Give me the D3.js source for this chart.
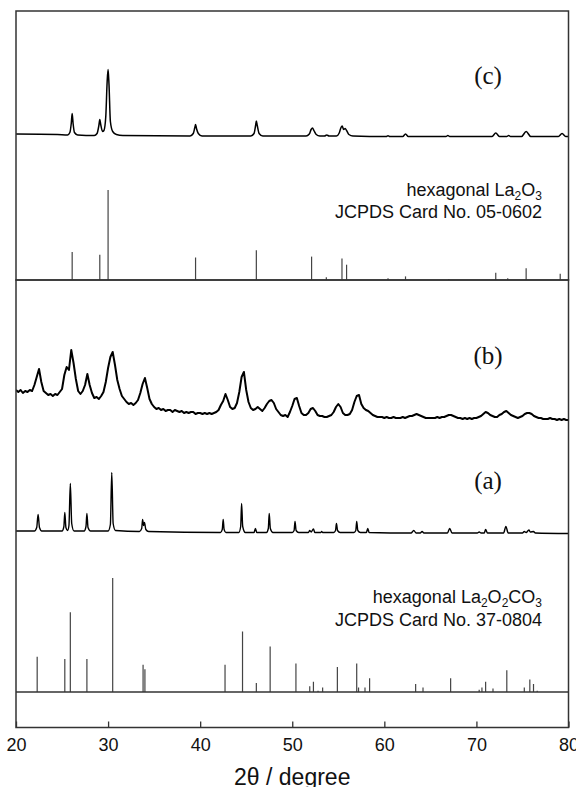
<!DOCTYPE html>
<html lang="en">
<head>
<meta charset="UTF-8" />
<title>index</title>
<script src="https://d3js.org/d3.v7.min.js"></script>
<style>
  body { margin: 0; background: #fff; }
  svg { display: block; }
  .sans { font-family: "Liberation Sans", Arial, sans-serif; fill: #111; }
  .serif { font-family: "Liberation Serif", "Times New Roman", serif; fill: #111; }
</style>
</head>
<body>
<div id="chart"></div>
<script>
// 2theta range and tick labels
var xTicks = [20, 30, 40, 50, 60, 70, 80];

// hexagonal La2O3, JCPDS 05-0602 (2theta, relative intensity %)
var la2o3Pos = [26.1, 29.1, 30.0, 39.5, 46.1, 52.1, 53.7, 55.4, 55.9, 60.4, 62.3, 67.0, 72.1, 73.4, 75.4, 79.1];
var la2o3Int = [31, 28, 100, 25, 33, 26, 3, 24, 17, 2, 4, 1, 8, 2, 13, 7];

// hexagonal La2O2CO3, JCPDS 37-0804
var carbPos = [22.3, 25.3, 25.9, 27.7, 30.5, 33.8, 34.0, 42.7, 44.6, 46.1, 47.6, 50.4, 51.9, 52.3, 52.8, 53.3,
               54.9, 57.0, 57.2, 57.9, 58.4, 63.4, 64.2, 67.2, 70.3, 70.6, 71.0, 71.8, 73.3, 75.2, 75.8, 76.2, 76.6];
var carbInt = [31, 29, 70, 29, 100, 24, 20, 24, 53, 8, 40, 25, 5, 9, 1, 4,
               22, 25, 4, 4, 12, 7, 4, 12, 2, 4, 9, 3, 19, 4, 11, 7, 1];

// pattern (c): [2theta, intensity a.u.]
var cProfile = [
  [20, 2.5], [24.5, 2], [25.6, 1.5], [25.85, 4], [26.0, 13], [26.1, 23], [26.2, 13], [26.35, 4], [26.7, 1.5],
  [28.5, 1], [28.8, 3], [29.0, 11], [29.1, 17], [29.2, 12], [29.4, 5], [29.55, 6], [29.75, 20], [29.9, 55],
  [30.0, 67], [30.1, 52], [30.25, 15], [30.5, 5], [30.9, 2], [31.6, 1],
  [38.9, 0.5], [39.25, 3], [39.42, 9], [39.5, 12], [39.6, 8], [39.8, 3], [40.2, 0.5],
  [45.5, 0.5], [45.85, 3], [46.02, 11], [46.1, 15.5], [46.2, 11], [46.4, 3], [46.8, 0.5],
  [51.5, 0.5], [51.85, 2.5], [52.05, 7], [52.2, 8.5], [52.35, 6], [52.6, 2], [53.0, 0.5],
  [53.5, 0.5], [53.75, 1.5], [54.0, 0.5],
  [54.8, 0.5], [55.1, 3.5], [55.3, 9], [55.42, 10.5], [55.58, 7], [55.75, 8], [55.9, 6], [56.15, 2], [56.6, 0.5],
  [60.2, 0], [60.4, 0.8], [60.6, 0], [62.0, 0], [62.3, 2.5], [62.6, 0], [66.7, 0], [66.9, 1], [67.1, 0],
  [71.7, 0], [72.1, 3.5], [72.5, 0], [73.3, 0], [73.5, 1], [73.7, 0],
  [74.9, 0], [75.4, 5], [75.9, 0], [78.9, 0], [79.3, 3], [79.7, 0], [80, 0]
];

// pattern (b): intensity on a 0.25 degree grid from 20 to 80
var bStart = 20, bStep = 0.25;
var bVals = [
  30, 28, 30, 27, 29, 28, 30, 29, 35, 43,
  51, 38, 29, 27, 25, 26, 24, 26, 25, 28,
  31, 45, 53, 50, 70, 57, 41, 29, 26, 29,
  35, 46, 35, 27, 22, 23, 21, 24, 28, 38,
  52, 63, 68, 55, 40, 31, 24, 21, 18, 16,
  17, 15, 17, 20, 27, 36, 42, 32, 21, 16,
  13, 11, 12, 10, 11, 9, 10, 10, 8, 10,
  9, 8, 9, 7, 8, 7, 8, 8, 6, 7,
  7, 6, 7, 6, 7, 6, 7, 8, 10, 15,
  19, 26, 20, 13, 11, 12, 17, 28, 43, 48,
  30, 18, 12, 10, 11, 13, 11, 9, 12, 16,
  19, 20, 17, 11, 8, 5, 4, 5, 3, 8,
  14, 21, 22, 14, 7, 5, 5, 7, 11, 12,
  9, 5, 4, 4, 3, 3, 4, 5, 8, 13,
  16, 13, 7, 5, 5, 6, 10, 18, 24, 25,
  16, 12, 10, 9, 7, 5, 4, 3, 3, 3,
  2, 3, 2, 2, 3, 2, 2, 2, 3, 2,
  3, 4, 4, 5, 6, 5, 4, 3, 2, 2,
  2, 2, 2, 3, 2, 3, 3, 4, 5, 5,
  4, 3, 2, 2, 1, 2, 1, 2, 1, 2,
  2, 3, 4, 6, 8, 7, 5, 4, 3, 3,
  5, 6, 8, 9, 7, 5, 4, 3, 2, 3,
  4, 6, 7, 7, 6, 4, 3, 2, 2, 1,
  1, 1, 2, 1, 1, 0, 1, 0, 1, 0,
  0
];

// pattern (a)
var aProfile = [
  [20, 2.5], [22.0, 2.5], [22.25, 6], [22.4, 19], [22.55, 6], [22.8, 2.5],
  [25.0, 2.5], [25.2, 7], [25.3, 21], [25.42, 6], [25.6, 3], [25.75, 8], [25.9, 50], [26.05, 10], [26.3, 2.5],
  [27.4, 2.5], [27.6, 7], [27.7, 20], [27.82, 6], [28.1, 2.5],
  [30.0, 2.5], [30.25, 9], [30.4, 61], [30.55, 10], [30.8, 3],
  [33.4, 2], [33.65, 5], [33.75, 14], [33.85, 8], [33.95, 11], [34.1, 4], [34.4, 2],
  [42.2, 1], [42.4, 4], [42.5, 14], [42.6, 4], [42.8, 1],
  [44.2, 1], [44.4, 7], [44.5, 30], [44.62, 7], [44.9, 1],
  [45.85, 1], [46.0, 5], [46.15, 1],
  [47.2, 1], [47.4, 5], [47.5, 20], [47.62, 5], [47.9, 1],
  [50.0, 1], [50.2, 3], [50.3, 12], [50.42, 3], [50.7, 1],
  [51.75, 1], [51.9, 3], [52.05, 1.5], [52.3, 4.5], [52.45, 1], [53.1, 1], [53.2, 2], [53.3, 1],
  [54.5, 1], [54.7, 3], [54.8, 10], [54.92, 3], [55.2, 1],
  [56.7, 1], [56.9, 3], [57.0, 12], [57.12, 3], [57.4, 1], [58.05, 1], [58.2, 5], [58.35, 1],
  [62.9, 0.5], [63.2, 3], [63.45, 0.5], [63.9, 0.5], [64.1, 2], [64.3, 0.5],
  [66.85, 0.5], [67.1, 5], [67.35, 0.5],
  [70.1, 0.5], [70.3, 1.5], [70.5, 0.5], [70.85, 0.5], [71.0, 4], [71.2, 0.5],
  [72.95, 0.5], [73.2, 7], [73.45, 0.5],
  [75.0, 0.5], [75.2, 2], [75.4, 1], [75.7, 3.5], [75.85, 1.5], [76.2, 2], [76.4, 0.5],
  [80, 0]
];

var W = 576, H = 787;
var padL = 16, padR = 568.5, padT = 11, padMid = 280, padB = 727.5;

var svg = d3.select("#chart").append("svg")
  .attr("width", W)
  .attr("height", H);

var x = d3.scaleLinear().domain([20, 80]).range([padL, padR]);

// one vertical scale per trace (offset stacking)
var yC = d3.scaleLinear().domain([0, 100]).range([136.5, 36.5]);
var yStickTop = d3.scaleLinear().domain([0, 100]).range([padMid, 190]);
var yB = d3.scaleLinear().domain([0, 100]).range([420, 320]);
var yA = d3.scaleLinear().domain([0, 100]).range([533.5, 433.5]);
var yStickBot = d3.scaleLinear().domain([0, 100]).range([692, 578]);

svg.append("clipPath").attr("id", "clip")
  .append("rect").attr("x", padL).attr("y", padT).attr("width", padR - padL).attr("height", padB - padT);

var plot = svg.append("g").attr("clip-path", "url(#clip)");

function drawLine(data, y, width, curve) {
  var line = d3.line()
    .x(function(d) { return x(d[0]); })
    .y(function(d) { return y(d[1]); })
    .curve(curve);
  plot.append("path")
    .datum(data)
    .attr("d", line)
    .attr("fill", "none")
    .attr("stroke", "#000")
    .attr("stroke-width", width)
    .attr("stroke-linejoin", "round");
}

function drawSticks(pos, ints, y) {
  plot.append("g").selectAll("line")
    .data(pos)
    .enter().append("line")
      .attr("x1", function(d) { return x(d); })
      .attr("x2", function(d) { return x(d); })
      .attr("y1", y(0))
      .attr("y2", function(d, i) { return y(ints[i]); })
      .attr("stroke", "#444")
      .attr("stroke-width", 1.2);
}

var bData = bVals.map(function(v, i) { return [bStart + i * bStep, v]; });

drawLine(cProfile, yC, 1.5, d3.curveMonotoneX);
drawSticks(la2o3Pos, la2o3Int, yStickTop);
drawLine(bData, yB, 2, d3.curveLinear);
drawLine(aProfile, yA, 1.4, d3.curveMonotoneX);
drawSticks(carbPos, carbInt, yStickBot);

// baseline of the La2O2CO3 sticks
svg.append("line")
  .attr("x1", padL).attr("x2", padR)
  .attr("y1", yStickBot(0)).attr("y2", yStickBot(0))
  .attr("stroke", "#333").attr("stroke-width", 1.3);

// frames
svg.append("rect")
  .attr("x", padL).attr("y", padT).attr("width", padR - padL).attr("height", padMid - padT)
  .attr("fill", "none").attr("stroke", "#333").attr("stroke-width", 1.5);
svg.append("rect")
  .attr("x", padL).attr("y", padMid).attr("width", padR - padL).attr("height", padB - padMid)
  .attr("fill", "none").attr("stroke", "#333").attr("stroke-width", 1.5);

// bottom axis, ticks pointing inward
var xAxis = svg.append("g")
  .attr("transform", "translate(0," + padB + ")")
  .call(d3.axisBottom(x).tickValues(xTicks).tickSizeInner(-6).tickSizeOuter(0).tickPadding(11));
xAxis.select(".domain").remove();
xAxis.selectAll(".tick line").attr("stroke", "#333").attr("stroke-width", 1.3);
xAxis.selectAll(".tick text")
  .attr("class", "sans")
  .style("font-size", "18px")
  .attr("fill", "#111");

svg.append("text")
  .attr("class", "sans")
  .attr("x", (padL + padR) / 2)
  .attr("y", 785)
  .attr("text-anchor", "middle")
  .style("font-size", "23px")
  .text("2\u03b8 / degree");

// sample labels
[["(c)", 84], ["(b)", 364], ["(a)", 489]].forEach(function(l) {
  svg.append("text")
    .attr("class", "serif")
    .attr("x", 488)
    .attr("y", l[1])
    .attr("text-anchor", "middle")
    .style("font-size", "25px")
    .text(l[0]);
});

// card labels with subscripts
function cardLabel(parts, y) {
  var t = svg.append("text")
    .attr("class", "sans")
    .attr("x", 542)
    .attr("y", y)
    .attr("text-anchor", "end")
    .style("font-size", "18px");
  var shift = 0;
  parts.forEach(function(p) {
    var want = p[1] ? 4 : 0;
    var s = t.append("tspan").attr("dy", want - shift).text(p[0]);
    if (p[1]) s.style("font-size", "12px");
    shift = want;
  });
}

cardLabel([["hexagonal La"], ["2", 1], ["O"], ["3", 1]], 196);
cardLabel([["JCPDS Card No. 05-0602"]], 218);
cardLabel([["hexagonal La"], ["2", 1], ["O"], ["2", 1], ["CO"], ["3", 1]], 603);
cardLabel([["JCPDS Card No. 37-0804"]], 626);
</script>
</body>
</html>
